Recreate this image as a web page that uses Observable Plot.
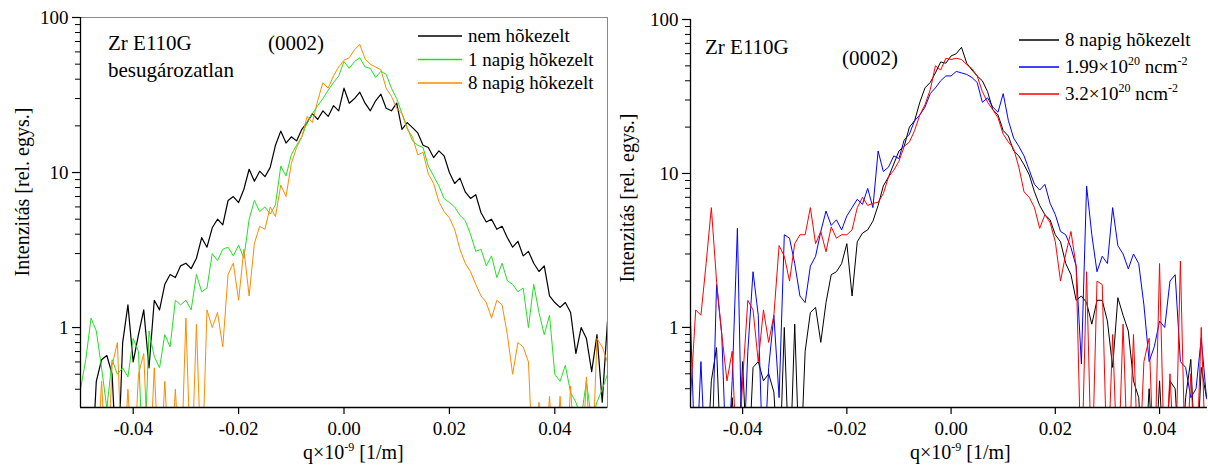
<!DOCTYPE html>
<html><head><meta charset="utf-8">
<script src="https://cdn.jsdelivr.net/npm/d3@7"></script>
<script src="https://cdn.jsdelivr.net/npm/@observablehq/plot@0.6"></script>
<style>
body{margin:0;background:#fff;width:1208px;height:470px;overflow:hidden;position:relative;font-family:"Liberation Serif","Times New Roman",serif;}
#left{position:absolute;left:0;top:0;}
#right{position:absolute;left:612px;top:0;}
</style></head><body><div id="left"></div><div id="right"></div>
<script>
// sample grid (q×10^-9, 1/m)
const q = [-0.050,-0.049,-0.048,-0.047,-0.046,-0.045,-0.044,-0.043,-0.042,-0.041,
-0.040,-0.039,-0.038,-0.037,-0.036,-0.035,-0.034,-0.033,-0.032,-0.031,
-0.030,-0.029,-0.028,-0.027,-0.026,-0.025,-0.024,-0.023,-0.022,-0.021,
-0.020,-0.019,-0.018,-0.017,-0.016,-0.015,-0.014,-0.013,-0.012,-0.011,
-0.010,-0.009,-0.008,-0.007,-0.006,-0.005,-0.004,-0.003,-0.002,-0.001,
0.000,0.001,0.002,0.003,0.004,0.005,0.006,0.007,0.008,0.009,
0.010,0.011,0.012,0.013,0.014,0.015,0.016,0.017,0.018,0.019,
0.020,0.021,0.022,0.023,0.024,0.025,0.026,0.027,0.028,0.029,
0.030,0.031,0.032,0.033,0.034,0.035,0.036,0.037,0.038,0.039,
0.040,0.041,0.042,0.043,0.044,0.045,0.046,0.047,0.048,0.049,0.050];

// left panel: besugározatlan
const nemHokezelt = [0.1,0.1,0.1,0.45,0.62,0.66,0.5,0.1,0.8,1.4,
0.6,0.9,1.3,0.55,1.5,1.3,1.9,2.2,2.1,2.5,
2.6,2.4,2.8,3.8,3.3,4.4,5.0,4.6,6.6,7.0,
6.4,7.8,10.5,8.8,10.2,9.4,10.8,15,18.5,15.5,
17,16,19,21,24,22,25,23,27,25,
35,28,30,33,28,25,29,32,26,25,
28,19,21,19.5,18,15,14.5,12.5,13.8,12.8,
10,8.5,9.2,7.5,6.8,7.2,5.5,4.8,5.0,4.3,
4.5,3.8,3.3,3.6,2.9,3.1,2.6,2.3,2.5,1.6,
1.45,1.35,1.45,1.25,0.68,1.0,0.85,0.52,0.9,0.33,1.1];
const napig1 = [0.4,0.62,1.15,0.95,0.55,0.3,0.62,0.5,0.55,0.48,
0.85,0.7,0.1,0.95,0.65,0.55,0.9,0.75,1.5,1.4,
1.5,1.3,2.2,1.7,1.8,3.0,2.7,3.2,3.3,2.9,
3.4,2.8,5.0,6.6,5.6,6.0,5.4,6.2,11,9.5,
13,15,17,21,24,27,30,34,38,42,
52,47,52,55,48,47,41,45,43,35,
30,24,19.5,16,15,14.5,11,9.5,8.2,6.8,
6.4,6.0,5.3,4.9,4.0,3.1,3.2,2.5,2.9,2.1,
2.6,2.0,1.9,1.7,1.8,1.0,1.9,1.25,0.9,1.2,
0.5,0.45,0.57,0.38,0.33,0.26,0.45,0.25,0.33,0.4,0.5];
const napig8 = [0.1,0.1,0.1,0.1,0.45,0.1,0.57,0.8,0.1,0.4,
0.1,0.5,0.68,0.1,0.55,0.1,0.45,0.1,0.4,0.1,
1.15,0.1,1.05,0.1,1.3,1.0,1.25,0.75,2.2,2.6,
1.5,3.2,1.6,3.5,4.5,4.3,6.0,5.2,8.3,7.0,
11.4,14.5,17,23,21,29,38,35,42,48,
53,55,62,67,54,50,48,46,35,31,
26,24,19,17,13,13.5,9.8,8.5,6.5,5.6,
5.1,4.3,3.2,2.6,2.3,1.9,1.6,1.45,1.15,1.5,
1.4,0.9,0.5,0.8,0.75,0.6,0.1,0.33,0.1,0.36,
0.1,0.36,0.1,0.42,0.1,0.1,0.48,0.1,0.85,0.75,0.6];

// right panel: irradiated
const napig8b = [0.1,0.1,0.1,0.1,0.45,0.74,0.1,0.1,0.35,0.1,
0.6,0.1,0.55,0.6,0.45,0.5,0.38,0.1,1.0,0.1,
1.05,0.1,0.7,1.25,1.35,0.8,1.45,2.2,2.3,2.6,
3.5,1.6,3.6,4.1,4.3,4.9,6.2,8.3,9.5,11.5,
14,15,20,22,29,36,39,45,53,52,
58,60,66,52,47,43,40,34,26,24,
19,17.5,14,13,11.4,9.8,7.6,6.2,5.4,5.0,
4.0,3.6,2.6,2.2,1.5,1.6,1.45,1.05,1.5,1.5,
1.1,0.55,1.56,1.2,0.95,0.45,0.35,0.1,0.4,0.1,
0.45,0.1,0.45,0.4,0.1,0.35,0.62,0.1,0.55,0.35,0.3];
const flux199 = [1.1,0.1,0.6,0.1,0.1,1.9,0.9,0.1,0.45,4.4,
0.1,0.7,2.3,1.2,0.1,0.55,1.2,0.35,4.0,3.8,
2.6,1.6,1.45,2.5,2.9,4.2,5.7,4.6,5.0,4.3,
5.3,6.0,6.8,6.3,8.0,6.0,14,10.3,11,13,
12.5,16.5,18,22,24,27,33,36,40,43,
43,46,45,44,42,39,29,31,27,25,
33,22,17,15,13,10.5,8.5,7.8,8.5,6.4,
5.4,4.2,4.0,3.3,2.5,0.58,8.3,4.0,2.3,2.9,
2.6,6.0,3.4,3.0,2.4,3.0,2.6,1.4,0.6,0.75,
1.1,1.0,2.0,2.2,0.6,0.55,0.35,0.4,0.85,0.35,0.3];
const flux32 = [0.35,1.3,1.2,2.6,6.0,2.0,0.9,0.45,0.7,0.1,
0.45,1.5,1.3,0.6,1.3,0.8,1.2,3.4,2.9,2.0,
3.5,4.0,4.0,6.0,3.5,4.2,3.1,4.5,3.8,4.0,
4.0,4.3,6.0,7.0,6.2,6.4,6.5,7.4,9.5,10.5,
12,15,16,19,24,28,35,50,47,56,
55,56,55,51,48,43,34,29,26,23,
18,16,14.5,11,7.6,7.0,6.0,4.4,5.4,4.8,
3.6,2.0,3.0,4.2,2.5,0.1,2.3,0.1,2.0,1.9,
0.1,0.9,0.1,1.05,0.1,0.9,0.1,0.6,0.85,0.1,
2.6,0.1,0.5,0.1,2.7,0.1,0.5,0.1,1.0,0.1,0.9];

const xTicks = [-0.04,-0.02,0.00,0.02,0.04];
const yMajor = [1,10,100];
const yMinor = [0.4,0.5,0.6,0.7,0.8,0.9,2,3,4,5,6,7,8,9,20,30,40,50,60,70,80,90];

const leftLegend = ["nem hõkezelt","1 napig hõkezelt","8 napig hõkezelt"];
const rightLegend = ["8 napig hõkezelt","1.99×10|20| ncm|-2","3.2×10|20| ncm|-2"];

const SERIF = '"Liberation Serif","Times New Roman",serif';

function makePanel(cfg){
  const marks = [];
  if (cfg.frame) marks.push(Plot.frame({stroke:"#8a8a8a", strokeWidth:1}));
  cfg.series.forEach(s => {
    const rows = q.map((x,i)=>({q:x, v:s.values[i]}));
    marks.push(Plot.line(rows, {x:"q", y:"v", stroke:s.color, strokeWidth:s.width, clip:true}));
  });
  marks.push(Plot.ruleX([cfg.xDomain[0]], {stroke:"#000", strokeWidth:1.3}));
  marks.push(Plot.ruleY([cfg.yDomain[0]], {stroke:"#000", strokeWidth:1.3}));
  marks.push(Plot.axisX(xTicks, {tickSize:7, tickPadding:7, tickFormat:d=>d.toFixed(2), fontSize:19, strokeWidth:1.2, label:null}));
  marks.push(Plot.axisY(yMajor, {tickSize:8, tickPadding:4, tickFormat:d=>String(d), fontSize:19, strokeWidth:1.2, label:null}));
  marks.push(Plot.axisY(yMinor, {tickSize:5, tickPadding:0, tickFormat:()=>"", strokeWidth:1, label:null}));
  return Plot.plot({
    width:cfg.width, height:470,
    marginLeft:cfg.ml, marginRight:cfg.mr, marginTop:cfg.mt, marginBottom:63,
    style:{fontFamily:SERIF, fontSize:"19px", color:"#000", background:"transparent", overflow:"visible"},
    x:{domain:cfg.xDomain, label:null},
    y:{type:"log", domain:cfg.yDomain, label:null},
    marks
  });
}

function richText(g, x, y, str, size, anchor){
  const t = g.append("text").attr("x", x).attr("y", y)
    .attr("font-size", size).attr("fill","#000")
    .attr("font-family", SERIF)
    .attr("text-anchor", anchor || "start");
  const parts = str.split("|");
  parts.forEach((p,i)=>{
    if (i % 2 === 1) t.append("tspan").attr("dy",-8).attr("font-size", Math.round(size*0.62)).text(p);
    else t.append("tspan").attr("dy", i===0?0:8).text(p);
  });
  return t;
}

function decorate(svg, d){
  const g = d3.select(svg).append("g").attr("text-anchor","start");
  d.texts.forEach(t => richText(g, t[0], t[1], t[2], t[3]));
  d.legend.forEach((lab,i)=>{
    const y = d.legY + i*d.legDy;
    g.append("line").attr("x1", d.legX).attr("x2", d.legX+d.legLen).attr("y1", y).attr("y2", y)
      .attr("stroke", d.colors[i]).attr("stroke-width", 1.3);
    richText(g, d.legX+d.legLen+6, y+6, lab, 19);
  });
  richText(g, d.xlab[0], d.xlab[1], "q×10|-9| [1/m]", 20);
  g.append("text").attr("transform",`translate(${d.ylab[0]},${d.ylab[1]}) rotate(-90)`)
    .attr("text-anchor","middle").attr("dy","0.35em").attr("font-size",20)
    .attr("font-family", SERIF)
    .text("Intenzitás [rel. egys.]");
}

const cLeft = ["#000000","#22e022","#ff8a00"];
const left = makePanel({
  width:612, ml:80, mr:5, mt:17, frame:true,
  xDomain:[-0.05,0.05], yDomain:[0.305,100],
  series:[
    {values:nemHokezelt, color:cLeft[0], width:1.2},
    {values:napig1, color:cLeft[1], width:1},
    {values:napig8, color:cLeft[2], width:1}
  ]
});
decorate(left, {
  texts:[[108,50,"Zr E110G",21],[108,77,"besugározatlan",21],[268,50,"(0002)",21]],
  legend:leftLegend, colors:cLeft, legX:418, legY:36, legDy:23.5, legLen:44,
  xlab:[303,459], ylab:[22,192]
});
document.getElementById("left").append(left);

const cRight = ["#000000","#0000ff","#ff0000"];
const right = makePanel({
  width:596, ml:78, mr:1, mt:19, frame:false,
  xDomain:[-0.05,0.0492], yDomain:[0.302,100],
  series:[
    {values:napig8b, color:cRight[0], width:1},
    {values:flux199, color:cRight[1], width:1},
    {values:flux32, color:cRight[2], width:1}
  ]
});
decorate(right, {
  texts:[[93,54,"Zr E110G",21],[230,65,"(0002)",21]],
  legend:rightLegend, colors:cRight, legX:407, legY:40, legDy:27, legLen:40,
  xlab:[298,459], ylab:[15,198]
});
document.getElementById("right").append(right);
</script></body></html>
